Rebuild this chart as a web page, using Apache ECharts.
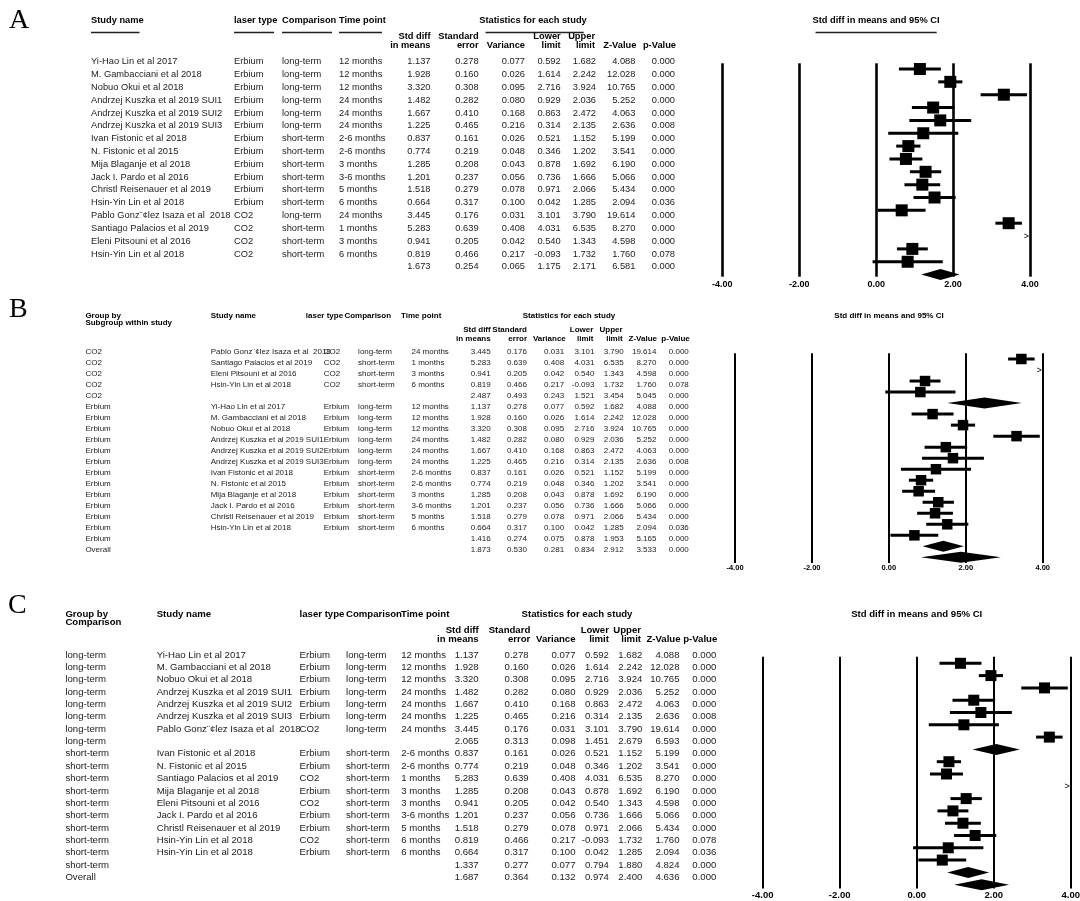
<!DOCTYPE html>
<html><head><meta charset="utf-8">
<script src="https://cdn.jsdelivr.net/npm/echarts@6/dist/echarts.min.js"></script>
<style>html,body{margin:0;padding:0;background:#fff}#c{width:1080px;height:901px}</style>
</head><body><div id="c"></div>
<script>
// ---------- data (16 studies, panel A order) ----------
const studyNames = ['Yi-Hao Lin et al 2017','M. Gambacciani et al 2018','Nobuo Okui et al 2018','Andrzej Kuszka et al 2019 SUI1','Andrzej Kuszka et al 2019 SUI2','Andrzej Kuszka et al 2019 SUI3','Ivan Fistonic et al 2018','N. Fistonic et al 2015','Mija Blaganje et al 2018','Jack I. Pardo et al 2016','Christl Reisenauer et al 2019','Hsin-Yin Lin et al 2018','Pablo Gonz\u00a8\u00a2lez Isaza et al  2018','Santiago Palacios et al 2019','Eleni Pitsouni et al 2016','Hsin-Yin Lin et al 2018'];
const laserType = ['Erbium','Erbium','Erbium','Erbium','Erbium','Erbium','Erbium','Erbium','Erbium','Erbium','Erbium','Erbium','CO2','CO2','CO2','CO2'];
const comparison = ['long-term','long-term','long-term','long-term','long-term','long-term','short-term','short-term','short-term','short-term','short-term','short-term','long-term','short-term','short-term','short-term'];
const timePoint = ['12 months','12 months','12 months','24 months','24 months','24 months','2-6 months','2-6 months','3 months','3-6 months','5 months','6 months','24 months','1 months','3 months','6 months'];
const stdDiff = [1.137,1.928,3.320,1.482,1.667,1.225,0.837,0.774,1.285,1.201,1.518,0.664,3.445,5.283,0.941,0.819];
const stdErr = [0.278,0.160,0.308,0.282,0.410,0.465,0.161,0.219,0.208,0.237,0.279,0.317,0.176,0.639,0.205,0.466];
const variance = [0.077,0.026,0.095,0.080,0.168,0.216,0.026,0.048,0.043,0.056,0.078,0.100,0.031,0.408,0.042,0.217];
const lowerLimit = [0.592,1.614,2.716,0.929,0.863,0.314,0.521,0.346,0.878,0.736,0.971,0.042,3.101,4.031,0.540,-0.093];
const upperLimit = [1.682,2.242,3.924,2.036,2.472,2.135,1.152,1.202,1.692,1.666,2.066,1.285,3.790,6.535,1.343,1.732];
const zValue = [4.088,12.028,10.765,5.252,4.063,2.636,5.199,3.541,6.190,5.066,5.434,2.094,19.614,8.270,4.598,1.760];
const pValue = [0.000,0.000,0.000,0.000,0.000,0.008,0.000,0.000,0.000,0.000,0.000,0.036,0.000,0.000,0.000,0.078];

// summary rows: [std diff, SE, variance, lower, upper, Z, p]
const summaryAll = [1.673,0.254,0.065,1.175,2.171,6.581,0.000];
const subgroupCO2 = [2.487,0.493,0.243,1.521,3.454,5.045,0.000];
const subgroupErbium = [1.416,0.274,0.075,0.878,1.953,5.165,0.000];
const overallByLaser = [1.873,0.530,0.281,0.834,2.912,3.533,0.000];
const subgroupLong = [2.065,0.313,0.098,1.451,2.679,6.593,0.000];
const subgroupShort = [1.337,0.277,0.077,0.794,1.880,4.824,0.000];
const overallByComparison = [1.687,0.364,0.132,0.974,2.400,4.636,0.000];

// row orders for panels B and C (indices into the study arrays)
const orderCO2 = [12,13,14,15];
const orderErbium = [0,1,2,3,4,5,6,7,8,9,10,11];
const orderLong = [0,1,2,3,4,5,12];
const orderShort = [6,7,13,8,14,9,10,15,11];

const panelLetters = ['A','B','C'];
const headLine1 = ['Std diff','Standard','','Lower','Upper','',''];
const headLine2 = ['in means','error','Variance','limit','limit','Z-Value','p-Value'];
const tickValues = [-4,-2,0,2,4];

// ---------- layout ----------
const FF = '"Liberation Sans", Arial, Helvetica, sans-serif';
const L = {
  A: {fs:9.3, h1:20.7, h2:[36,45.5], rowY0:61.7, rowH:12.82, name:91, group:null, laser:234, comp:282, time:339,
      hLaser:234, hComp:282, hTime:339, num:[430.5,478.6,525,560.7,596,635.4,675], hnum:[430.5,478.6,525,560.7,595,636.4,676],
      stats:533, ci:876, grid:{left:722.3,right:1030,top:63.3,bottom:276.7}, markY0:69, markH:12.85, box:12, lw:2.6, tfs:9, tm:3, letterY:21},
  B: {fs:8, h1:315.5, h1b:323, h2:[330,338.5], rowY0:351.7, rowH:11.0, name:210.7, group:85.4, laser:323.7, comp:358.1, time:411.5,
      hLaser:305.8, hComp:344.4, hTime:401, num:[490.7,526.9,564.1,594.4,623.7,656.4,688.8], hnum:[490.7,527,565.8,593.4,622.6,657,689.8],
      stats:569, ci:889, grid:{left:735,right:1042.7,top:353.3,bottom:563}, markY0:359, markH:11.02, box:10.5, lw:2, tfs:7.5, tm:0.5, letterY:310,
      groupHead:['Group by','Subgroup within study']},
  C: {fs:9.6, h1:614.5, h1b:622.5, h2:[630,639.3], rowY0:655, rowH:12.35, name:156.7, group:65.4, laser:299.6, comp:346, time:401.2,
      hLaser:299.6, hComp:346, hTime:401, num:[478.7,528.6,575.5,608.9,642.3,679.5,716.3], hnum:[478.7,530.3,575.5,608.9,641,680.5,717.3],
      stats:577, ci:916.7, grid:{left:762.7,right:1070.7,top:656.7,bottom:888.5}, markY0:663.3, markH:12.3, box:11, lw:2, tfs:9.5, tm:2, letterY:606,
      groupHead:['Group by','Comparison']}
};

const els = [];
function txt(x, y, s, fs, o) {
  o = o || {};
  const al = o.align || 'left';
  els.push({type:'text', x:x, y:y, silent:true, z:10,
    style:{text:s, font:(o.bold?'bold ':'') + fs + 'px ' + FF, fill:o.color || (o.bold ? '#000' : '#222'),
      textAlign:al, align:al, textVerticalAlign:'middle', verticalAlign:'middle'}});
}
function hline(x1, x2, y) {
  els.push({type:'line', silent:true, shape:{x1:x1, y1:y, x2:x2, y2:y}, style:{stroke:'#222', lineWidth:1.6}});
}
const f3 = v => v.toFixed(3);

function header(P) {
  const b = {bold:true};
  if (P.group != null) {
    txt(P.group, P.h1, P.groupHead[0], P.fs, b);
    txt(P.group, P.h1b, P.groupHead[1], P.fs, b);
  }
  txt(P.name, P.h1, 'Study name', P.fs, b);
  txt(P.hLaser, P.h1, 'laser type', P.fs, b);
  txt(P.hComp, P.h1, 'Comparison', P.fs, b);
  txt(P.hTime, P.h1, 'Time point', P.fs, b);
  txt(P.stats, P.h1, 'Statistics for each study', P.fs, {bold:true, align:'center'});
  txt(P.ci, P.h1, 'Std diff in means and 95% CI', P.fs, {bold:true, align:'center'});
  headLine1.forEach((s, j) => { if (s) txt(P.hnum[j], P.h2[0], s, P.fs, {bold:true, align:'right'}); });
  headLine2.forEach((s, j) => { if (s) txt(P.hnum[j], P.h2[1], s, P.fs, {bold:true, align:'right'}); });
}
function studyRow(P, i, k, group) {
  const y = P.rowY0 + i * P.rowH;
  if (group != null) txt(P.group, y, group, P.fs);
  txt(P.name, y, studyNames[k], P.fs);
  txt(P.laser, y, laserType[k], P.fs);
  txt(P.comp, y, comparison[k], P.fs);
  txt(P.time, y, timePoint[k], P.fs);
  [stdDiff[k], stdErr[k], variance[k], lowerLimit[k], upperLimit[k], zValue[k], pValue[k]]
    .forEach((v, j) => txt(P.num[j], y, f3(v), P.fs, {align:'right'}));
}
function sumRow(P, i, vals, group) {
  const y = P.rowY0 + i * P.rowH;
  if (group != null) txt(P.group, y, group, P.fs);
  vals.forEach((v, j) => txt(P.num[j], y, f3(v), P.fs, {align:'right'}));
}

// ---------- panel row structures ----------
// each row: {k: study index} or {sum: array}
const rowsA = orderLong.slice(0,6).concat([6,7,8,9,10,11,12,13,14,15]).map(k => ({k:k}));
rowsA.push({sum:summaryAll});
const rowsB = [];
orderCO2.forEach(k => rowsB.push({k:k, g:'CO2'}));
rowsB.push({sum:subgroupCO2, g:'CO2'});
orderErbium.forEach(k => rowsB.push({k:k, g:'Erbium'}));
rowsB.push({sum:subgroupErbium, g:'Erbium'});
rowsB.push({sum:overallByLaser, g:'Overall'});
const rowsC = [];
orderLong.forEach(k => rowsC.push({k:k, g:'long-term'}));
rowsC.push({sum:subgroupLong, g:'long-term'});
orderShort.forEach(k => rowsC.push({k:k, g:'short-term'}));
rowsC.push({sum:subgroupShort, g:'short-term'});
rowsC.push({sum:overallByComparison, g:'Overall'});

const panels = [[L.A, rowsA], [L.B, rowsB], [L.C, rowsC]];

// letters
txt(9, L.A.letterY, panelLetters[0], 28, {color:'#000'});
els[els.length-1].style.font = '28px "Liberation Serif", "Times New Roman", serif';
txt(9, L.B.letterY, panelLetters[1], 28, {color:'#000'});
els[els.length-1].style.font = '28px "Liberation Serif", "Times New Roman", serif';
txt(8, L.C.letterY, panelLetters[2], 28, {color:'#000'});
els[els.length-1].style.font = '28px "Liberation Serif", "Times New Roman", serif';

panels.forEach(([P, rows]) => {
  header(P);
  rows.forEach((r, i) => {
    if (r.k != null) studyRow(P, i, r.k, P.group != null ? r.g : null);
    else sumRow(P, i, r.sum, P.group != null ? r.g : null);
  });
});
// underlines (panel A)
hline(91, 139.5, 32.5); hline(234, 274, 32.5); hline(282, 332, 32.5); hline(339, 382, 32.5);
hline(485.5, 583.7, 32.5); hline(815.5, 936.7, 32.5);

// ---------- chart ----------
function studyRender(P) {
  return function (params, api) {
    const est = api.value(0), lo = api.value(1), hi = api.value(2), row = api.value(3);
    const y = api.coord([0, row])[1];
    if (est > 4) {
      return {type:'text', style:{text:'>', x:api.coord([4,row])[0] - 1, y:y, font:'9px ' + FF, fill:'#000',
        textAlign:'right', align:'right', textVerticalAlign:'middle', verticalAlign:'middle'}};
    }
    const x0 = api.coord([Math.max(lo,-4), row])[0], x1 = api.coord([Math.min(hi,4), row])[0], xe = api.coord([est,row])[0];
    const s = P.box, w = 3;
    return {type:'group', children:[
      {type:'rect', shape:{x:x0, y:y - w/2, width:x1 - x0, height:w}, style:{fill:'#000'}},
      {type:'rect', shape:{x:xe - s/2, y:y - s/2, width:s, height:s}, style:{fill:'#000'}}
    ]};
  };
}
function diamondRender(P) {
  return function (params, api) {
    const est = api.value(0), lo = api.value(1), hi = api.value(2), row = api.value(3);
    const pe = api.coord([est,row]), pl = api.coord([lo,row]), ph = api.coord([hi,row]);
    const h = 5.5;
    return {type:'polygon', shape:{points:[[pl[0],pe[1]],[pe[0],pe[1]-h],[ph[0],pe[1]],[pe[0],pe[1]+h]]}, style:{fill:'#000'}};
  };
}

const grids = [], xAxes = [], yAxes = [], series = [];
panels.forEach(([P, rows], gi) => {
  const G = P.grid;
  grids.push({left:G.left, width:G.right - G.left, top:G.top, height:G.bottom - G.top, containLabel:false, outerBoundsMode:'none'});
  xAxes.push({type:'value', gridIndex:gi, min:-4, max:4, interval:2,
    axisLine:{show:false}, axisTick:{show:false},
    splitLine:{show:true, showMinLine:true, showMaxLine:true, lineStyle:{color:'#000', width:P.lw}},
    axisLabel:{show:true, margin:P.tm, fontSize:P.tfs, fontWeight:'bold', color:'#000', fontFamily:FF,
      showMinLabel:true, showMaxLabel:true, formatter: v => v.toFixed(2)}});
  yAxes.push({type:'value', gridIndex:gi, inverse:true, show:false,
    min: -(P.markY0 - G.top) / P.markH, max: (G.bottom - P.markY0) / P.markH,
    splitLine:{show:false}});
  const sData = [], dData = [];
  rows.forEach((r, i) => {
    if (r.k != null) sData.push([stdDiff[r.k], lowerLimit[r.k], upperLimit[r.k], i]);
    else dData.push([r.sum[0], r.sum[3], r.sum[4], i]);
  });
  series.push({type:'custom', xAxisIndex:gi, yAxisIndex:gi, renderItem:studyRender(P), data:sData,
    encode:{x:[0,1,2], y:3}, clip:false, silent:true, z:5});
  series.push({type:'custom', xAxisIndex:gi, yAxisIndex:gi, renderItem:diamondRender(P), data:dData,
    encode:{x:[0,1,2], y:3}, clip:false, silent:true, z:5});
});

const chart = echarts.init(document.getElementById('c'), null, {renderer:'canvas', width:1080, height:901});
chart.setOption({
  animation:false, backgroundColor:'#fff',
  grid:grids, xAxis:xAxes, yAxis:yAxes, series:series,
  graphic:{elements:els}
});
</script></body></html>
